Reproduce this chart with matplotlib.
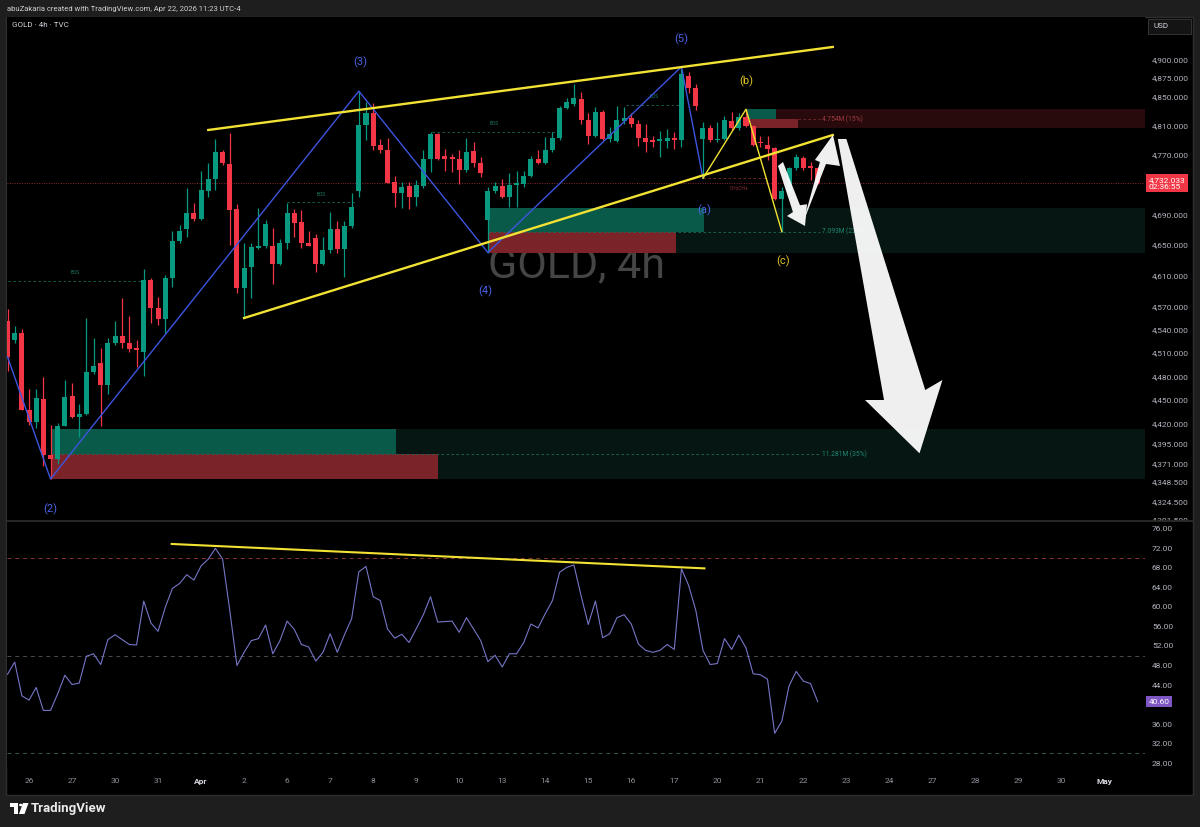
import numpy as np
import matplotlib.pyplot as plt
import matplotlib.transforms as mtransforms
from matplotlib.patches import Rectangle, Polygon, Circle
from matplotlib.ticker import FixedLocator, FixedFormatter, NullLocator, NullFormatter

plt.rcParams['font.family'] = ['Roboto', 'DejaVu Sans']

# ==========================
# 1. CANDLE DATA (GOLD 4h)
# ==========================
opens = [4551, 4526, 4535, 4438, 4423, 4452, 4381, 4377, 4418, 4455,
         4429, 4432, 4486, 4497, 4469, 4522, 4532, 4523, 4516, 4511,
         4604, 4568, 4554, 4607, 4655, 4671, 4692, 4684, 4722, 4737,
         4774, 4758, 4697, 4593, 4621, 4646, 4648, 4649, 4625, 4652,
         4692, 4680, 4653, 4659, 4625, 4643, 4671, 4644, 4675, 4722,
         4810, 4827, 4783, 4777, 4734, 4719, 4728, 4713, 4728, 4764,
         4798, 4769, 4767, 4765, 4750, 4775, 4759, 4683, 4721, 4728,
         4713, 4729, 4731, 4742, 4765, 4759, 4776, 4793, 4834, 4839,
         4846, 4818, 4796, 4829, 4791, 4789, 4816, 4820, 4812, 4793,
         4790, 4789, 4789, 4793, 4790, 4878, 4861, 4791, 4806, 4790,
         4791, 4816, 4806, 4821, 4809, 4788, 4783, 4779, 4711, 4721,
         4752, 4766, 4755, 4752]
highs = [4567, 4544, 4540, 4464, 4464, 4479, 4419, 4421, 4475, 4472,
         4445, 4555, 4529, 4516, 4529, 4551, 4581, 4557, 4527, 4619,
         4606, 4582, 4610, 4668, 4676, 4725, 4705, 4748, 4759, 4792,
         4776, 4800, 4704, 4652, 4653, 4699, 4683, 4672, 4658, 4705,
         4698, 4696, 4668, 4665, 4661, 4694, 4681, 4682, 4719, 4857,
         4842, 4840, 4792, 4793, 4742, 4734, 4734, 4736, 4777, 4801,
         4800, 4778, 4771, 4776, 4793, 4788, 4767, 4727, 4734, 4738,
         4745, 4749, 4749, 4769, 4776, 4794, 4801, 4836, 4848, 4867,
         4856, 4827, 4835, 4831, 4808, 4837, 4835, 4827, 4817, 4812,
         4796, 4802, 4805, 4801, 4889, 4884, 4867, 4815, 4810, 4815,
         4823, 4829, 4827, 4832, 4810, 4796, 4795, 4781, 4727, 4754,
         4771, 4769, 4761, 4754]
lows = [4487, 4522, 4437, 4419, 4415, 4368, 4352, 4370, 4417, 4428,
        4404, 4431, 4483, 4418, 4458, 4520, 4516, 4511, 4492, 4481,
        4548, 4546, 4535, 4595, 4652, 4661, 4682, 4683, 4714, 4723,
        4756, 4650, 4587, 4556, 4580, 4644, 4646, 4599, 4623, 4644,
        4661, 4646, 4648, 4615, 4623, 4639, 4639, 4608, 4672, 4714,
        4790, 4776, 4773, 4732, 4700, 4699, 4698, 4702, 4725, 4747,
        4763, 4749, 4747, 4731, 4747, 4754, 4740, 4640, 4719, 4712,
        4700, 4700, 4727, 4740, 4758, 4758, 4774, 4790, 4832, 4836,
        4812, 4785, 4794, 4790, 4788, 4788, 4812, 4808, 4782, 4774,
        4781, 4767, 4779, 4778, 4781, 4854, 4831, 4738.6, 4788, 4788,
        4790, 4804, 4804, 4808, 4782, 4781, 4763, 4710, 4667.4, 4719,
        4750, 4750, 4736, 4731]
closes = [4505, 4535, 4438, 4423, 4453, 4381, 4376, 4418, 4454, 4429,
          4433, 4486, 4493, 4469, 4522, 4532, 4523, 4515, 4514, 4604,
          4568, 4554, 4607, 4655, 4669, 4692, 4684, 4723, 4737, 4774,
          4759, 4696, 4593, 4620, 4647, 4649, 4677, 4625, 4652, 4692,
          4679, 4653, 4649, 4625, 4643, 4671, 4644, 4675, 4700, 4810,
          4827, 4782, 4776, 4732, 4719, 4727, 4713, 4729, 4764, 4798,
          4764, 4764, 4764, 4750, 4774, 4759, 4745, 4721, 4728, 4713,
          4729, 4732, 4742, 4764, 4759, 4777, 4793, 4834, 4842, 4847,
          4818, 4796, 4829, 4791, 4798, 4817, 4820, 4812, 4793, 4788,
          4788, 4791, 4793, 4790, 4881, 4861, 4836, 4806, 4790, 4792,
          4817, 4806, 4822, 4809, 4783, 4786, 4778, 4711, 4721, 4752,
          4767, 4753, 4753, 4732.033]

rsi = [46.2, 48.7, 41.8, 40.9, 43.5, 38.8, 38.8, 42.2, 46.0, 44.1,
       44.4, 49.9, 50.4, 48.2, 53.3, 54.3, 53.3, 52.3, 52.2, 61.2,
       56.7, 55.0, 59.9, 63.8, 64.8, 66.6, 65.5, 68.4, 69.8, 72.0,
       69.8, 59.3, 48.0, 50.7, 53.1, 53.5, 56.3, 50.4, 53.1, 57.1,
       55.4, 52.3, 51.8, 48.9, 50.7, 54.5, 50.7, 54.3, 57.6, 67.2,
       68.3, 62.1, 61.3, 55.5, 53.6, 54.4, 52.7, 55.5, 58.4, 62.1,
       56.9, 57.0, 57.1, 54.8, 57.8, 55.5, 53.1, 48.8, 50.1, 47.7,
       50.4, 50.4, 52.7, 56.5, 55.7, 58.6, 61.3, 67.1, 68.1, 68.6,
       62.3, 56.4, 61.2, 53.7, 54.5, 57.8, 58.4, 56.5, 52.4, 51.1,
       50.7, 51.1, 52.3, 51.3, 67.8, 64.4, 59.3, 51.1, 48.2, 48.4,
       53.5, 51.3, 54.2, 51.6, 46.3, 46.1, 45.2, 34.1, 36.6, 43.8,
       46.8, 44.8, 44.3, 40.6]

last_price = 4732.033
last_rsi = 40.60

day_labels = ["26", "27", "30", "31", "Apr", "2", "6", "7", "8", "9", "10", "13", "14",
              "15", "16", "17", "20", "21", "22", "23", "24", "27", "28", "29", "30", "May"]
price_ticks = [4900, 4875, 4850, 4810, 4770, 4690, 4650, 4610, 4570, 4540, 4510,
               4480, 4450, 4420, 4395, 4371, 4348.5, 4324.5, 4301.5]
rsi_ticks = [76, 72, 68, 64, 60, 56, 52, 48, 44, 36, 32, 28]

# ==========================
# 2. DRAWINGS (bar index, price)
# ==========================
wave_x = [0, 6, 49, 67, 94, 97]
wave_y = [4505, 4351.8, 4857, 4640, 4890.7, 4738.6]
abc_x = [97, 103, 108]
abc_y = [4738.6, 4832.1, 4667.4]
upper_x, upper_y = [28, 115.1], [4803.8, 4918.1]
lower_x, lower_y = [33, 115.1], [4554.7, 4797.0]

blue_names = ["(2)", "(3)", "(4)", "(5)", "(a)"]
blue_lx = [6, 49.2, 66.6, 94, 97.1]
blue_ly = [4314.9, 4897.2, 4590.0, 4929.2, 4696.2]
yel_names = ["(b)", "(c)"]
yel_lx = [103.1, 108.2]
yel_ly = [4870.9, 4628.9]

# demand zones
zone_top = [4413.8, 4698.5]
zone_mid = [4382.6, 4667.4]
zone_bot = [4351.8, 4639.0]
zone_start = [6, 67]
zone_teal_end = [54.2, 97.1]
zone_red_end = [60.0, 93.2]
zone_text = ["11.281M (35%)", "7.093M (22%)"]

# supply zone
sup_top, sup_mid, sup_bot = 4832.1, 4818.4, 4806.1
sup_teal = [103.1, 107.2]
sup_red = [103.6, 110.2]
sup_text = "4.754M (15%)"

# BOS levels
bos_y = [4602.7, 4706.9, 4801.5, 4838.0]
bos_x0 = [0, 39, 59.2, 86.3]
bos_x1 = [18.9, 48.5, 76.6, 94.1]
bos_ty = [4613.2, 4716.2, 4812.0, 4848.9]

choch_y = 4738.6

# projection arrows
arrow1 = [(107.46, 4755.1), (109.55, 4693.5), (108.72, 4688.2), (111.23, 4675.0),
          (111.51, 4703.9), (110.53, 4702.5), (108.16, 4760.5)]
arrow2 = [(111.0, 4680.3), (114.16, 4757.8), (116.11, 4755.1), (115.13, 4797.0),
          (112.61, 4763.2), (113.31, 4760.5)]
arrow3 = [(115.8, 4791.6), (117.0, 4791.6), (128.0, 4462.8), (130.4, 4475.5),
          (127.2, 4383.5), (119.6, 4450.2), (122.25, 4450.2)]

rsi_trend_x, rsi_trend_y = [22.9, 97.2], [72.9, 67.9]

# ==========================
# 3. FIGURE
# ==========================
W, H = 1200, 827
fig = plt.figure(figsize=(W / 100, H / 100), dpi=100, facecolor='#1e1e1e')


def fbox(x0, y0, x1, y1):
    return [x0 / W, 1 - y1 / H, (x1 - x0) / W, (y1 - y0) / H]


fig.add_artist(Rectangle((6 / W, 1 - 795 / H), 1187 / W, 778 / H, transform=fig.transFigure,
                         fc='black', ec='#2e2e2e', lw=1, zorder=-1))

GREEN, RED = '#089981', '#f23645'
YELLOW, BLUE = '#f2e234', '#3d55e0'
XL, XR = -0.07, 158.65

ax = fig.add_axes(fbox(7, 17, 1145, 520))
rx = fig.add_axes(fbox(7, 522, 1145, 768))
for a in (ax, rx):
    a.set_facecolor('black')
    a.set_xlim(XL, XR)
    for s in a.spines.values():
        s.set_visible(False)

ax.set_yscale('log')
ax.set_ylim(4301.5, 4960)

ax.text(0.5, 0.505, "GOLD, 4h", transform=ax.transAxes, ha='center', va='center',
        fontsize=31, color='#454545', zorder=0.5)

# zones
for i in range(len(zone_top)):
    s = zone_start[i]
    ax.add_patch(Rectangle((s, zone_bot[i]), XR - s, zone_top[i] - zone_bot[i],
                           fc='#051613', ec='none', zorder=1))
    ax.add_patch(Rectangle((s, zone_mid[i]), zone_teal_end[i] - s, zone_top[i] - zone_mid[i],
                           fc='#0a5a4a', ec='none', zorder=2))
    ax.add_patch(Rectangle((s, zone_bot[i]), zone_red_end[i] - s, zone_mid[i] - zone_bot[i],
                           fc='#7a2328', ec='none', zorder=2))
    ax.plot([s, 113.3], [zone_mid[i]] * 2, color='#1d6b5a', lw=0.6, ls=(0, (3, 3)), zorder=3)
    ax.text(113.6, zone_mid[i], zone_text[i], color='#1f8a70', fontsize=4.8, va='center', zorder=3)

ax.add_patch(Rectangle((sup_teal[1], sup_bot), XR - sup_teal[1], sup_top - sup_bot,
                       fc='#280a0d', ec='none', zorder=1))
ax.add_patch(Rectangle((sup_teal[0], sup_mid), sup_teal[1] - sup_teal[0], sup_top - sup_mid,
                       fc='#0a5a4a', ec='none', zorder=2))
ax.add_patch(Rectangle((sup_red[0], sup_bot), sup_red[1] - sup_red[0], sup_mid - sup_bot,
                       fc='#7a2328', ec='none', zorder=2))
ax.plot([sup_red[1], 113.3], [sup_mid] * 2, color='#7a2a30', lw=0.6, ls=(0, (3, 3)), zorder=3)
ax.text(113.6, sup_mid, sup_text, color='#a33a41', fontsize=4.8, va='center', zorder=3)

# BOS / CHoCH
for y, x0, x1, ty in zip(bos_y, bos_x0, bos_x1, bos_ty):
    ax.plot([x0, x1], [y, y], color='#1b6b5b', lw=0.6, ls=(0, (3, 3)), zorder=3)
    ax.text((x0 + x1) / 2, ty, "BOS", color='#1d7a66', fontsize=3.5, ha='center', va='center', zorder=3)
ax.plot([97, 106], [choch_y] * 2, color='#7a2a30', lw=0.6, ls=(0, (3, 3)), zorder=3)
ax.text(102, 4725.6, "CHoCH+", color='#8b2b33', fontsize=3.5, ha='center', va='center', zorder=3)

ax.axhline(last_price, color='#8b2630', lw=0.7, ls=(0, (1, 1.5)), zorder=3)

# candles
x = np.arange(len(closes))
o, h, l, c = map(np.array, (opens, highs, lows, closes))
cols = np.where(c >= o, GREEN, RED)
ax.vlines(x, l, h, colors=cols, lw=0.9, zorder=4)
ax.bar(x, np.maximum(np.abs(c - o), 0.8), bottom=np.minimum(o, c), width=0.7,
       color=cols, lw=0, zorder=4)

# wave counts and channel
ax.plot(wave_x, wave_y, color=BLUE, lw=1.0, zorder=5)
ax.plot(abc_x, abc_y, color=YELLOW, lw=1.0, zorder=5)
ax.plot(upper_x, upper_y, color=YELLOW, lw=1.7, zorder=5)
ax.plot(lower_x, lower_y, color=YELLOW, lw=1.7, zorder=5)
for t, lx, ly in zip(blue_names, blue_lx, blue_ly):
    ax.text(lx, ly, t, color='#4a63e8', fontsize=8, ha='center', va='center', zorder=7)
for t, lx, ly in zip(yel_names, yel_lx, yel_ly):
    ax.text(lx, ly, t, color='#e0c42a', fontsize=8, ha='center', va='center', zorder=7)

for pts in (arrow1, arrow2, arrow3):
    ax.add_patch(Polygon(pts, closed=True, fc='white', ec='none', alpha=0.94, zorder=6))

# price axis
ax.set_xticks([])
ax.yaxis.tick_right()
ax.yaxis.set_major_locator(FixedLocator(price_ticks))
ax.yaxis.set_major_formatter(FixedFormatter([f"{v:,.3f}" for v in price_ticks]))
ax.yaxis.set_minor_locator(NullLocator())
ax.yaxis.set_minor_formatter(NullFormatter())
ax.tick_params(axis='y', length=0, pad=5, labelsize=6, labelcolor='#b2b5be')
trans = mtransforms.blended_transform_factory(ax.transAxes, ax.transData)
ax.text(1.003, last_price, f"{last_price:,.3f}\n02:36:55", transform=trans, fontsize=6,
        color='white', va='center', ha='left', linespacing=1.15, zorder=8,
        bbox=dict(boxstyle='square,pad=0.3', fc=RED, ec='none'))

# ==========================
# 4. RSI PANE
# ==========================
rx.set_zorder(2)
rx.set_ylim(27.0, 77.4)
for lvl, col in ((70, '#8c3434'), (50, '#4d4d4d'), (30, '#2d5b4b')):
    rx.axhline(lvl, color=col, lw=0.7, ls=(0, (4, 4)))
rx.plot(x, rsi, color='#7676c8', lw=0.8)
rx.plot(rsi_trend_x, rsi_trend_y, color=YELLOW, lw=1.5)
rx.yaxis.tick_right()
rx.set_yticks(rsi_ticks)
rx.set_yticklabels([f"{v:.2f}" for v in rsi_ticks])
rx.tick_params(axis='y', length=0, pad=5, labelsize=6, labelcolor='#b2b5be')
rx.set_xticks([3 + 6 * i for i in range(len(day_labels))])
rx.set_xticklabels(day_labels)
rx.tick_params(axis='x', length=0, pad=7, labelsize=6, labelcolor='#8f929b')
for lbl in rx.get_xticklabels():
    if lbl.get_text() in ("Apr", "May"):
        lbl.set_color('#d8dae0')
        lbl.set_fontweight('bold')
rtrans = mtransforms.blended_transform_factory(rx.transAxes, rx.transData)
rx.text(1.003, last_rsi, f"{last_rsi:.2f}", transform=rtrans, fontsize=6, color='white',
        va='center', ha='left', bbox=dict(boxstyle='square,pad=0.3', fc='#7e57c2', ec='none'))

# pane separator and price column cover
fig.add_artist(Rectangle((1145 / W, 1 - 768 / H), 47 / W, 247 / H, transform=fig.transFigure,
                         fc='black', ec='none', zorder=1))
fig.add_artist(plt.Line2D([6 / W, 1193 / W], [1 - 521 / H] * 2, transform=fig.transFigure,
                          color='#2b2b2b', lw=1.3, zorder=3))

# ==========================
# 5. HEADER / FOOTER TEXT
# ==========================
fig.text(7 / W, 1 - 8.5 / H, "abuZakaria created with TradingView.com, Apr 22, 2026 11:23 UTC-4",
         fontsize=5.5, color='#d0d0d0', va='center')
fig.text(12 / W, 1 - 25 / H, "GOLD · 4h · TVC", fontsize=5.8, color='#d1d4dc', va='center')
fig.add_artist(Rectangle((1148 / W, 1 - 34 / H), 43 / W, 15 / H, transform=fig.transFigure,
                         fc='#141414', ec='#3a3a3a', lw=0.6, zorder=3))
fig.text(1153 / W, 1 - 26.5 / H, "USD", fontsize=5.8, color='#d1d4dc', va='center', zorder=4)

fig.add_artist(Rectangle((10 / W, 1 - 806.5 / H), 7.5 / W, 3.5 / H, transform=fig.transFigure,
                         fc='white', ec='none', zorder=3))
fig.add_artist(Rectangle((13.5 / W, 1 - 814 / H), 4 / W, 8 / H, transform=fig.transFigure,
                         fc='white', ec='none', zorder=3))
fig.add_artist(Circle((20.8 / W, 1 - 805 / H), 1.8 / W, transform=fig.transFigure,
                      fc='white', ec='none', zorder=3))
fig.add_artist(Polygon([(23 / W, 1 - 803 / H), (28.5 / W, 1 - 803 / H), (24.5 / W, 1 - 814 / H),
                        (19 / W, 1 - 814 / H)], closed=True, transform=fig.transFigure,
                       fc='white', ec='none', zorder=3))
fig.text(31 / W, 1 - 808.5 / H, "TradingView", fontsize=9.5, fontweight='bold',
         color='#ececec', va='center')

fig.savefig('out.png', dpi=100, facecolor=fig.get_facecolor())
